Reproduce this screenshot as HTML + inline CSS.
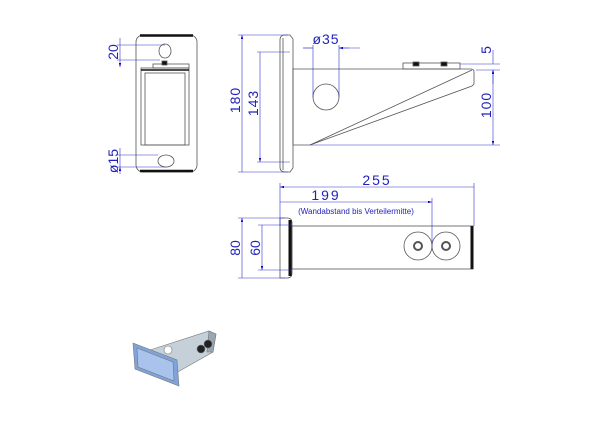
<!DOCTYPE html>
<html><head><style>body{margin:0;background:#fff}svg{display:block}</style></head><body>
<svg width="600" height="425" viewBox="0 0 600 425" xmlns="http://www.w3.org/2000/svg" font-family="Liberation Sans, sans-serif">
<defs><marker id="a" viewBox="0 0 10 6" refX="10" refY="3" markerWidth="8" markerHeight="4" orient="auto-start-reverse"><path d="M0,0L10,3L0,6z" fill="#0000cc"/></marker></defs>
<g fill="none" stroke="#555" stroke-width="0.8">
<!-- front -->
<rect x="136" y="35" width="61" height="137" rx="7"/>
<path d="M140,35.5H193" stroke="#111" stroke-width="2.5"/>
<path d="M140,171H193" stroke="#111" stroke-width="2.5"/>
<rect x="141" y="68" width="48" height="77"/>
<path d="M141,70H189" stroke="#111" stroke-width="1.5"/>
<rect x="145" y="73" width="40" height="72"/>
<rect x="153" y="64" width="36" height="4"/>
<rect x="162" y="61" width="5" height="4" fill="#111"/>
<ellipse cx="165" cy="51" rx="6" ry="7"/>
<ellipse cx="166" cy="161" rx="8" ry="6"/>
<!-- side -->
<path d="M280,40q0-5 5-5h5l3,4v129l-3,4h-5q-5 0-5-5z"/>
<path d="M283,38v132"/>
<path d="M293,68v77"/>
<path d="M293,69H471q3,0 3,3v12l-2,2L310,145H293"/>
<path d="M310,145L472,70"/>
<rect x="403" y="63" width="57" height="6"/>
<rect x="413" y="62" width="6" height="4" fill="#111"/>
<rect x="441" y="62" width="6" height="4" fill="#111"/>
<circle cx="326" cy="97" r="13"/>
<!-- top -->
<path d="M280,218h7q5,0 5,5v50q0,5-5,5h-7z"/>
<path d="M290,220v56" stroke="#111" stroke-width="3"/>
<rect x="292" y="226" width="181" height="43"/>
<path d="M472,226v43" stroke="#111" stroke-width="3"/>
<circle cx="418" cy="246" r="14"/><circle cx="446" cy="246" r="14"/>
<circle cx="418" cy="246" r="4" stroke-width="2"/><circle cx="446" cy="246" r="4" stroke-width="2"/>
</g>
<g stroke="#3333cc" stroke-width="0.6" fill="none">
<path d="M117,45H165M117,60H160M117,155H158M117,167H166"/>
<path d="M120,38V45M120,60V67" marker-end="url(#a)"/>
<path d="M120,148V155M120,174V167" marker-end="url(#a)"/>
<path d="M120,45V60M120,155V167"/>
<path d="M238,35H288M238,172H288M257,52H290M257,162H290"/>
<path d="M242,35V172M260,52V162" marker-start="url(#a)" marker-end="url(#a)"/>
<path d="M313,45V97M339,45V97M303,48H313M349,48H339" />
<path d="M303,48H313M360,48H339" marker-end="url(#a)"/>
<path d="M460,64H500M476,70H500M310,145H500"/>
<path d="M493,50V64M493,84V70" marker-end="url(#a)"/>
<path d="M493,70V145" marker-start="url(#a)" marker-end="url(#a)"/>
<path d="M280,183V226M474,183V226M432,198V246"/>
<path d="M280,187H474M280,202H432" marker-start="url(#a)" marker-end="url(#a)"/>
<path d="M238,218H285M238,278H285M258,225H292M258,270H292"/>
<path d="M242,218V278M262,225V270" marker-start="url(#a)" marker-end="url(#a)"/>
</g>
<g fill="#2222bb" font-size="14">
<text transform="translate(118,52) rotate(-90)" text-anchor="middle">20</text>
<text transform="translate(118,161) rotate(-90)" text-anchor="middle">ø15</text>
<text transform="translate(240,100) rotate(-90)" text-anchor="middle" letter-spacing="1">180</text>
<text transform="translate(258,103) rotate(-90)" text-anchor="middle" letter-spacing="1">143</text>
<text x="326" y="44" text-anchor="middle" letter-spacing="1">ø35</text>
<text transform="translate(491,50) rotate(-90)" text-anchor="middle">5</text>
<text transform="translate(491,105) rotate(-90)" text-anchor="middle" letter-spacing="1">100</text>
<text x="377" y="185" text-anchor="middle" letter-spacing="2">255</text>
<text x="326" y="200" text-anchor="middle" letter-spacing="2">199</text>
<text x="356" y="214" text-anchor="middle" font-size="8">(Wandabstand bis Verteilermitte)</text>
<text transform="translate(240,248) rotate(-90)" text-anchor="middle">80</text>
<text transform="translate(260,248) rotate(-90)" text-anchor="middle">60</text>
</g>
<!-- photo -->
<g stroke="#777" stroke-width="0.6">
<path d="M150,350L209,331L216,334L213,352L176,373L172,362Z" fill="#c5d0d8"/>
<path d="M209,331L216,334L213,352L207,352Z" fill="#9aa6b0"/>
<path d="M133,343L177,360L179,386L135,369Z" fill="#7fa4dc"/>
<path d="M137,348L173,362L174,381L138,367Z" fill="#a9c3ec"/>
<circle cx="168" cy="350" r="4" fill="#fff"/>
<circle cx="201" cy="349" r="4" fill="#222"/><circle cx="208" cy="344" r="4" fill="#222"/>
</g>
</svg>
</body></html>
